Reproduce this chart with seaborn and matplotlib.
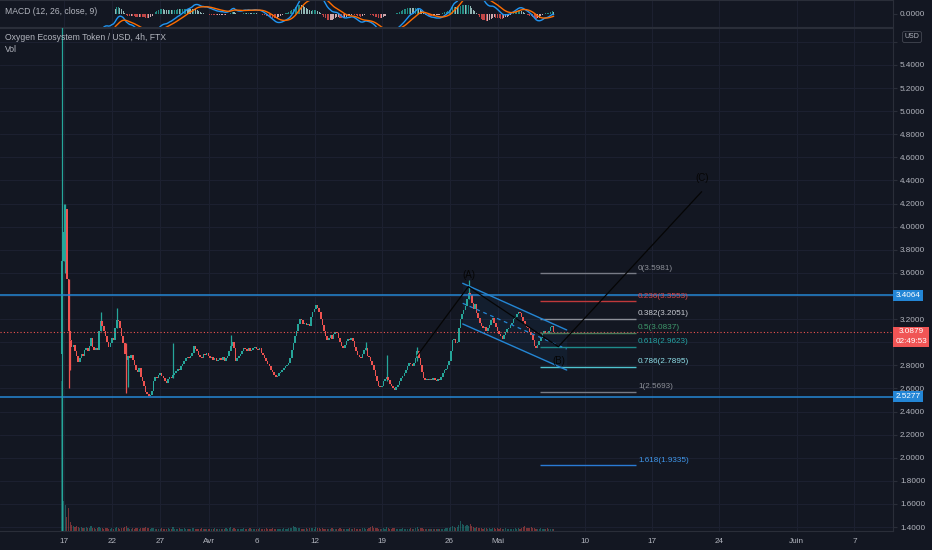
import numpy as np
import pandas as pd
import matplotlib
matplotlib.use('Agg')
import matplotlib.pyplot as plt
import matplotlib.transforms as mtransforms
from matplotlib.patches import Rectangle
import seaborn as sns

# ------------------------------------------------------------
# data (4h candles, OXY/USD on FTX)
# ------------------------------------------------------------
first_open = 2.90
closes = [
    3.70, 3.95, 4.15, 3.55, 3.10, 3.02, 2.96, 2.98, 2.92, 2.88,
    2.83, 2.86, 2.90, 2.88, 2.93, 2.95, 2.92, 2.97, 3.04, 2.96,
    2.93, 2.95, 2.93, 3.10, 3.18, 3.14, 3.10, 3.05, 3.00, 2.96,
    2.99, 3.04, 3.02, 3.12, 3.19, 3.18, 3.12, 3.05, 2.99, 2.90,
    2.85, 2.88, 2.86, 2.89, 2.85, 2.80, 2.76, 2.74, 2.78, 2.70,
    2.66, 2.62, 2.57, 2.55, 2.53, 2.54, 2.58, 2.66, 2.70, 2.69,
    2.72, 2.73, 2.71, 2.69, 2.66, 2.65, 2.68, 2.70, 2.69, 2.72,
    2.73, 2.75, 2.77, 2.76, 2.79, 2.81, 2.84, 2.86, 2.87, 2.86,
    2.88, 2.91, 2.97, 2.94, 2.92, 2.89, 2.87, 2.86, 2.90, 2.89,
    2.91, 2.88, 2.86, 2.87, 2.85, 2.86, 2.84, 2.85, 2.86, 2.85,
    2.87, 2.84, 2.86, 2.88, 2.92, 2.97, 3.00, 2.95, 2.84, 2.86,
    2.88, 2.90, 2.92, 2.95, 2.94, 2.92, 2.95, 2.92, 2.93, 2.95,
    2.96, 2.94, 2.93, 2.95, 2.91, 2.89, 2.86, 2.84, 2.81, 2.79,
    2.76, 2.74, 2.72, 2.70, 2.71, 2.73, 2.74, 2.76, 2.78, 2.79,
    2.80, 2.82, 2.86, 2.93, 2.99, 3.05, 3.10, 3.16, 3.20, 3.19,
    3.16, 3.17, 3.15, 3.16, 3.14, 3.22, 3.26, 3.29, 3.32, 3.30,
    3.26, 3.20, 3.15, 3.10, 3.05, 3.02, 3.04, 3.06, 3.03, 3.07,
    3.09, 3.08, 3.04, 3.00, 2.97, 2.95, 2.98, 3.01, 3.03, 3.02,
    3.04, 3.01, 2.96, 2.92, 2.89, 2.87, 2.86, 2.90, 2.93, 2.95,
    2.88, 2.87, 2.84, 2.80, 2.76, 2.71, 2.66, 2.62, 2.61, 2.62,
    2.66, 2.68, 2.70, 2.67, 2.64, 2.62, 2.60, 2.59, 2.61, 2.63,
    2.66, 2.69, 2.71, 2.73, 2.76, 2.79, 2.82, 2.81, 2.79, 2.82,
    2.86, 2.92, 2.86, 2.80, 2.74, 2.69, 2.67, 2.68, 2.67, 2.68,
    2.67, 2.69, 2.67, 2.66, 2.68, 2.67, 2.70, 2.73, 2.76, 2.77,
    2.80, 2.84, 2.92, 3.02, 3.03, 2.99, 3.00, 3.12, 3.20, 3.24,
    3.28, 3.31, 3.37, 3.43, 3.41, 3.34, 3.29, 3.33, 3.25, 3.21,
    3.17, 3.14, 3.12, 3.13, 3.10, 3.12, 3.15, 3.19, 3.21, 3.17,
    3.13, 3.10, 3.07, 3.05, 3.03, 3.06, 3.09, 3.11, 3.12, 3.15,
    3.17, 3.20, 3.22, 3.24, 3.26, 3.25, 3.22, 3.18, 3.15, 3.13,
    3.12, 3.09, 3.06, 3.02, 2.97, 2.95, 2.98, 3.01, 3.04, 3.07,
    3.10, 3.08, 3.07, 3.10, 3.13, 3.14, 3.0879,
]
# candles with a visible wick: index, high, low
wick_idx = [0, 1, 2, 4, 5, 24, 34, 40, 41, 69, 105, 189, 202, 221, 253]
wick_high = [6.00, 4.20, 4.20, 3.55, 3.02, 3.26, 3.30, 2.99, 2.88, 2.99, 3.06, 3.00, 2.89, 2.96, 3.54]
wick_low = [1.00, 3.70, 3.60, 2.60, 2.76, 3.10, 3.12, 2.56, 2.61, 2.69, 2.97, 2.93, 2.66, 2.84, 3.37]
# volume, relative units
volume = [
    150, 30, 26, 14, 23, 9, 6, 5, 4, 5,
    4, 3, 4, 3, 3, 4, 3, 3, 5, 3,
    3, 2, 3, 4, 3, 3, 2, 3, 3, 2,
    2, 3, 2, 3, 4, 3, 2, 3, 3, 4,
    5, 3, 2, 2, 3, 2, 3, 3, 2, 3,
    3, 3, 4, 3, 3, 2, 3, 3, 2, 2,
    2, 2, 3, 2, 2, 2, 3, 2, 2, 4,
    2, 2, 2, 3, 2, 2, 3, 2, 2, 2,
    2, 3, 3, 2, 2, 2, 2, 3, 2, 2,
    2, 2, 2, 2, 2, 3, 2, 2, 2, 2,
    2, 2, 3, 2, 3, 4, 2, 3, 2, 2,
    2, 2, 2, 3, 2, 2, 2, 3, 2, 2,
    2, 2, 2, 3, 2, 2, 2, 3, 2, 2,
    2, 3, 2, 2, 2, 2, 2, 2, 3, 2,
    2, 3, 3, 3, 5, 4, 3, 3, 3, 2,
    2, 2, 3, 2, 3, 3, 3, 2, 4, 3,
    3, 2, 3, 2, 2, 2, 2, 2, 3, 2,
    2, 2, 2, 3, 2, 2, 2, 2, 2, 3,
    2, 2, 3, 2, 2, 2, 2, 3, 3, 2,
    2, 3, 4, 5, 3, 3, 3, 2, 2, 2,
    3, 2, 4, 3, 2, 2, 3, 3, 2, 2,
    2, 2, 3, 2, 2, 2, 2, 3, 2, 2,
    3, 4, 2, 3, 3, 2, 2, 2, 2, 2,
    2, 2, 2, 2, 2, 2, 2, 2, 2, 3,
    3, 3, 4, 5, 4, 3, 4, 6, 10, 7,
    6, 5, 6, 5, 7, 5, 4, 3, 4, 3,
    3, 3, 2, 3, 3, 2, 3, 2, 3, 3,
    2, 3, 2, 3, 2, 2, 3, 2, 2, 2,
    2, 2, 3, 2, 3, 2, 3, 4, 5, 3,
    3, 3, 4, 3, 3, 2, 2, 2, 3, 2,
    2, 2, 3, 2, 2, 2, 2,
]

# x axis: days counted from 17 March
tick_days = [0, 5, 10, 15, 20, 26, 33, 40, 45, 54, 61, 68, 76, 82]
tick_labels = ['17', '22', '27', 'Avr', '6', '12', '19', '26', 'Mai', '10', '17', '24', 'Juin', '7']
price_ticks = [1.4, 1.6, 1.8, 2.0, 2.2, 2.4, 2.6, 2.8, 3.0, 3.2, 3.4, 3.6, 3.8,
               4.0, 4.2, 4.4, 4.6, 4.8, 5.0, 5.2, 5.4, 5.6]
hidden_ticks = [3.0, 3.4, 5.6]   # covered by the price boxes

# horizontal levels
resistance = 3.4064
support = 2.5277
last_price = 3.0879

# fibonacci retracement
fib_ratios = ['0', '0.236', '0.382', '0.5', '0.618', '0.786', '1', '1.618']
fib_prices = [3.5981, 3.3553, 3.2051, 3.0837, 2.9623, 2.7895, 2.5693, 1.9335]
fib_start, fib_end = 49.38, 59.34

# descending channel (days, price)
chan_x = [41.36, 52.15]
chan_upper = [3.510, 3.106]
chan_mid = [3.337, 2.941]
chan_lower = [3.158, 2.759]

# wave path
wave_x = [36.62, 41.94, 51.28, 66.15]
wave_y = [2.881, 3.481, 2.961, 4.303]
wave_names = ['(A)', '(B)', '(C)']
wave_lab_x = [42.04, 51.35, 66.15]
wave_lab_y = [3.582, 2.84, 4.42]

# ------------------------------------------------------------
BG = '#131722'
GRID = '#1c2030'
LINE = '#2a2e39'
TXT = '#b2b5be'
UP = '#26a69a'
DOWN = '#ef5350'
FS = 5.9

sns.set_theme(style='dark')
plt.rcParams['font.family'] = ['Liberation Sans Narrow', 'Liberation Sans', 'DejaVu Sans']

closes = np.array(closes)
opens = np.r_[first_open, closes[:-1]]
n = len(closes)
xs = -0.2 + np.arange(n) / 6.0
up = closes >= opens
ccol = np.where(up, UP, DOWN)

fig = plt.figure(figsize=(9.32, 5.5), dpi=100, facecolor=BG)
W, H = 932, 550
ax = fig.add_axes([0, 19 / H, 893 / W, 503 / H])
axm = fig.add_axes([0, 1 - 27 / H, 893 / W, 27 / H], sharex=ax)
axv = fig.add_axes([0, 19 / H, 893 / W, 503 / H], sharex=ax)

for a in (ax, axm):
    a.set_facecolor(BG)
    for s in a.spines.values():
        s.set_color(LINE)
        s.set_linewidth(0.8)
    a.spines['left'].set_visible(False)
    a.set_xticks(tick_days)
    a.grid(True, color=GRID, lw=0.8)
    a.set_axisbelow(True)

ax.set_xlim(-6.64, 86.0)
ax.set_ylim(1.3654, 5.7203)

# ---- candles
body_lo = np.minimum(opens, closes)
body_h = np.maximum(np.abs(closes - opens), 0.008)
ax.vlines(xs[wick_idx], wick_low, wick_high, colors=ccol[wick_idx], lw=0.9, zorder=3)
ax.bar(xs, body_h, bottom=body_lo, width=0.16, color=ccol, linewidth=0, zorder=4)

# ---- volume (overlay)
axv.axis('off')
axv.patch.set_visible(False)
axv.set_ylim(0, 503)
axv.bar(xs, volume, width=0.12, color=ccol, alpha=0.45, linewidth=0)

# ---- levels
ax.axhline(resistance, color='#2486d4', lw=1.1, zorder=5)
ax.axhline(support, color='#2486d4', lw=1.1, zorder=5)
ax.axhline(last_price, color=DOWN, lw=0.8, ls=(0, (1, 2)), zorder=5)

# ---- fibonacci
fib_line = ['#787b86', '#c0393b', '#8d9099', '#4a7a5a', '#1e8a8a', '#4fc3cf', '#787b86', '#2a7bd5']
fib_text = ['#8d9099', '#d9464a', '#c9ccd3', '#3f9a6c', '#24a3a3', '#8fe0ea', '#8d9099', '#3f96ea']
ax.hlines(fib_prices, fib_start, fib_end, colors=fib_line, lw=1.0, zorder=5)
lab_tr = mtransforms.offset_copy(ax.transData, fig=fig, x=0, y=5, units='dots')
for r, p, c in zip(fib_ratios, fib_prices, fib_text):
    ax.text(fib_end + 0.2, p, f'{r}({p:.4f})', color=c, fontsize=FS,
            va='center', ha='left', transform=lab_tr, zorder=6)

# ---- channel
ax.fill_between(chan_x, chan_lower, chan_upper, color='#2196f3', alpha=0.06, lw=0, zorder=2)
ax.plot(chan_x, chan_upper, color='#2486d4', lw=1.0, zorder=5)
ax.plot(chan_x, chan_lower, color='#2486d4', lw=1.0, zorder=5)
ax.plot(chan_x, chan_mid, color='#2486d4', lw=0.9, ls=(0, (3, 3)), zorder=5)

# ---- wave count
ax.plot(wave_x, wave_y, color='#050505', lw=0.9, zorder=6)
for t, x, y in zip(wave_names, wave_lab_x, wave_lab_y):
    ax.text(x, y, t, color='#050505', fontsize=7, ha='center', va='center', zorder=6)

# ---- axes styling
ax.yaxis.tick_right()
ax.set_yticks(price_ticks)
ax.set_yticklabels(['' if v in hidden_ticks else f'{v:.4f}' for v in price_ticks])
ax.tick_params(axis='y', colors=LINE, labelcolor=TXT, labelsize=FS, length=3, width=0.8, pad=2)
ax.set_xticklabels(tick_labels)
ax.tick_params(axis='x', colors=LINE, labelcolor=TXT, labelsize=FS, length=0, pad=5)

# right-side price boxes
bt = mtransforms.blended_transform_factory(ax.transAxes, ax.transData)
bw = 30 / 893
for p, fc in ((resistance, '#2386d6'), (support, '#2386d6')):
    ax.add_patch(Rectangle((1.0, p - 0.047), bw, 0.094, transform=bt, fc=fc, ec='none',
                           clip_on=False, zorder=20))
    ax.text(1.0 + bw / 2, p, f'{p:.4f}', transform=bt, color='white', fontsize=FS,
            ha='center', va='center', clip_on=False, zorder=21)
ax.add_patch(Rectangle((1.0, 2.961), 36 / 893, 0.173, transform=bt, fc='#f05555', ec='none',
                       clip_on=False, zorder=20))
ax.text(1.0 + 18 / 893, 3.090, f'{last_price:.4f}', transform=bt, color='white', fontsize=FS,
        ha='center', va='center', clip_on=False, zorder=21)
ax.text(1.0 + 18 / 893, 3.008, '02:49:53', transform=bt, color='white', fontsize=FS,
        ha='center', va='center', clip_on=False, zorder=21)

# ---- MACD pane
s = pd.Series(closes)
macd = s.ewm(span=12, adjust=False).mean() - s.ewm(span=26, adjust=False).mean()
signal = macd.ewm(span=9, adjust=False).mean()
hist = macd - signal
macd[:25] = np.nan
signal[:33] = np.nan
hist[:33] = np.nan
prev = hist.shift(1)
hcol = np.where(hist >= 0, np.where(hist > prev, '#26a69a', '#b2dfdb'),
                np.where(hist > prev, '#ffcdd2', '#ef5350'))
axm.bar(xs, hist.fillna(0), width=0.11, color=hcol, linewidth=0, alpha=0.8)
mdf = pd.DataFrame({'x': xs, 'macd': macd, 'signal': signal})
sns.lineplot(data=mdf, x='x', y='macd', ax=axm, color='#2196f3', lw=1.0)
sns.lineplot(data=mdf, x='x', y='signal', ax=axm, color='#ff6d00', lw=1.0)
axm.set_ylim(-0.075, 0.075)
axm.set_xlabel('')
axm.set_ylabel('')
axm.yaxis.tick_right()
axm.set_yticks([0])
axm.set_yticklabels(['0.0000'])
axm.tick_params(axis='y', colors=LINE, labelcolor=TXT, labelsize=FS, length=3, width=0.8, pad=2)
axm.tick_params(axis='x', length=0, labelbottom=False)
axm.grid(True, axis='x', color=GRID, lw=0.8)
axm.grid(False, axis='y')

# ---- header texts
fig.text(5 / W, 1 - 12 / H, 'MACD (12, 26, close, 9)', color=TXT, fontsize=6.2, va='center')
fig.text(5 / W, 1 - 37 / H, 'Oxygen Ecosystem Token / USD, 4h, FTX', color=TXT, fontsize=6.2, va='center')
fig.text(5 / W, 1 - 50 / H, 'Vol', color=TXT, fontsize=6.2, va='center')
fig.text(912 / W, 1 - 37 / H, 'USD', color=TXT, fontsize=5, ha='center', va='center',
         bbox=dict(boxstyle='round,pad=0.3', fc=BG, ec='#434651', lw=0.6), zorder=30)

fig.savefig('out.png', dpi=100, facecolor=BG)
